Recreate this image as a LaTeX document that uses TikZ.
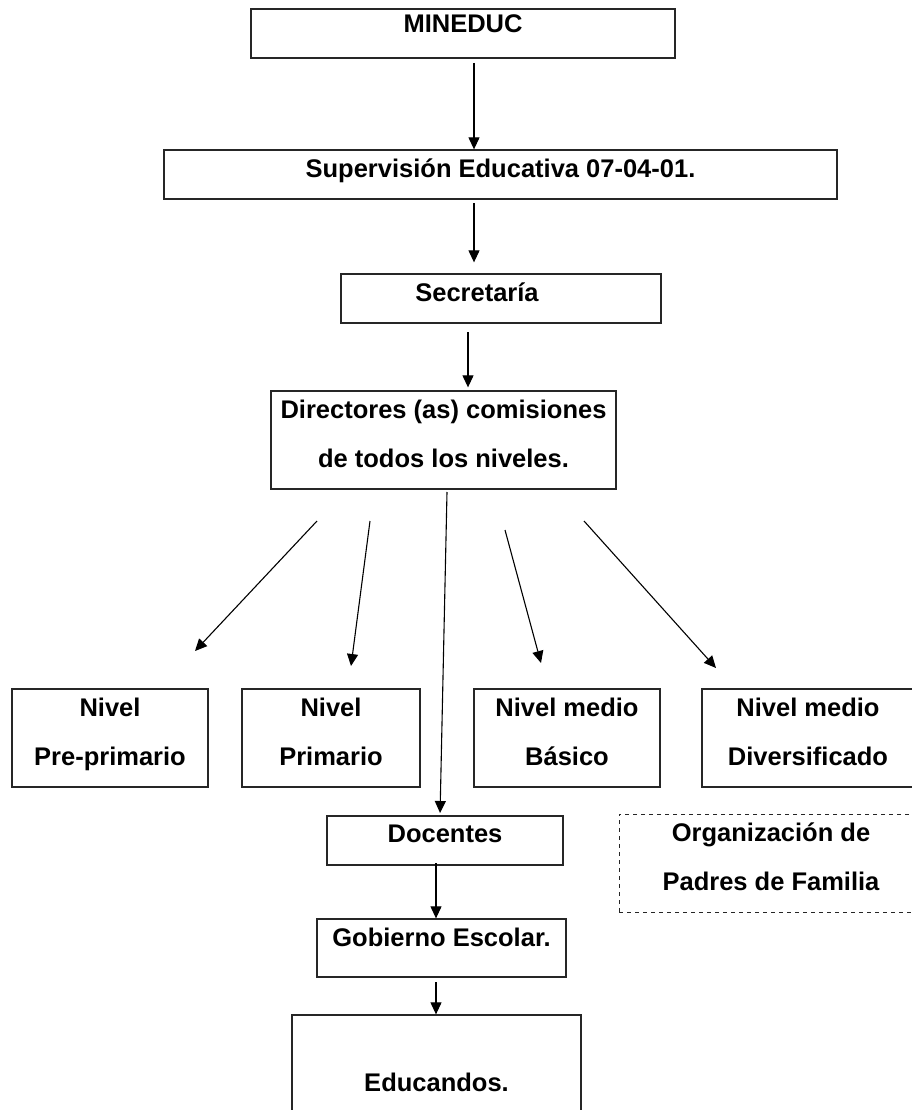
\documentclass[tikz,border=0pt]{standalone}
\usepackage{fontspec}
\setmainfont{Liberation Sans}
\usetikzlibrary{arrows.meta}

\begin{document}
\begin{tikzpicture}[x=1pt,y=-1pt,
  box/.style={draw=black!85,line width=1.3pt,inner sep=0pt},
  dashbox/.style={draw=black!85,line width=1pt,dash pattern=on 4pt off 4pt,inner sep=0pt},
  txt/.style={anchor=north,inner sep=0pt,align=center,yshift=-9pt,
    font=\fontsize{25.5pt}{49pt}\selectfont\bfseries},
  arr/.style={line width=1.1pt,-{Triangle[length=12pt,width=11pt]}}]
\clip (0,0) rectangle (912,1110);
\node[box,minimum width=424pt,minimum height=49pt,label={[txt,yshift=3pt]north:MINEDUC}] (mineduc) at (463,33.5) {};
\node[box,minimum width=673pt,minimum height=49pt,label={[txt]north:Supervisión Educativa 07-04-01.}] (superv) at (500.5,174.5) {};
\node[box,minimum width=320pt,minimum height=49pt,label={[txt,xshift=-24pt]north:Secretaría}] (secret) at (501,298.5) {};
\node[box,minimum width=345pt,minimum height=98pt,label={[txt]north:Directores (as) comisiones\\de todos los niveles.}] (direct) at (443.5,440) {};
\node[box,minimum width=196pt,minimum height=98pt,label={[txt]north:Nivel\\Pre-primario}] (prepri) at (110,738) {};
\node[box,minimum width=178pt,minimum height=98pt,label={[txt]north:Nivel\\Primario}] (primar) at (331,738) {};
\node[box,minimum width=186pt,minimum height=98pt,label={[txt]north:Nivel medio\\Básico}] (basico) at (567,738) {};
\node[box,minimum width=212pt,minimum height=98pt,label={[txt]north:Nivel medio\\Diversificado}] (divers) at (808,738) {};
\node[box,minimum width=236pt,minimum height=49pt,label={[txt]north:Docentes}] (docent) at (445,840.5) {};
\node[dashbox,minimum width=304pt,minimum height=98pt,label={[txt]north:Organización de\\Padres de Familia}] (padres) at (771,863) {};
\node[box,minimum width=249pt,minimum height=58pt,label={[txt]north:Gobierno Escolar.}] (gobier) at (441.5,948) {};
\node[box,minimum width=289pt,minimum height=115pt,label={[txt,yshift=-49pt]north:Educandos.}] (educan) at (436.5,1072.5) {};

\coordinate (m0) at (474,63);
\coordinate (s0) at (474,203);
\coordinate (c0) at (468,332);
\coordinate (d0) at (447,492);
\coordinate (d1) at (440,816);
\coordinate (p0) at (317,521);
\coordinate (p1) at (195,651);
\coordinate (r0) at (370,521);
\coordinate (r1) at (351,666);
\coordinate (b0) at (505,530);
\coordinate (b1) at (541,663);
\coordinate (v0) at (584,521);
\coordinate (v1) at (716,668);
\coordinate (g0) at (436,863);
\coordinate (e0) at (436,982);

\draw[arr] (m0) -- (m0 |- superv.north);
\draw[arr,shorten >=11pt] (s0) -- (s0 |- secret.north);
\draw[arr,shorten >=3pt] (c0) -- (c0 |- direct.north);
\draw[arr] (p0) -- (p1);
\draw[arr] (r0) -- (r1);
\draw[arr,shorten >=3pt] (d0) -- (d1);
\draw[arr] (b0) -- (b1);
\draw[arr] (v0) -- (v1);
\draw[arr] (g0) -- (g0 |- gobier.north);
\draw[arr] (e0) -- (e0 |- educan.north);
\end{tikzpicture}
\end{document}
